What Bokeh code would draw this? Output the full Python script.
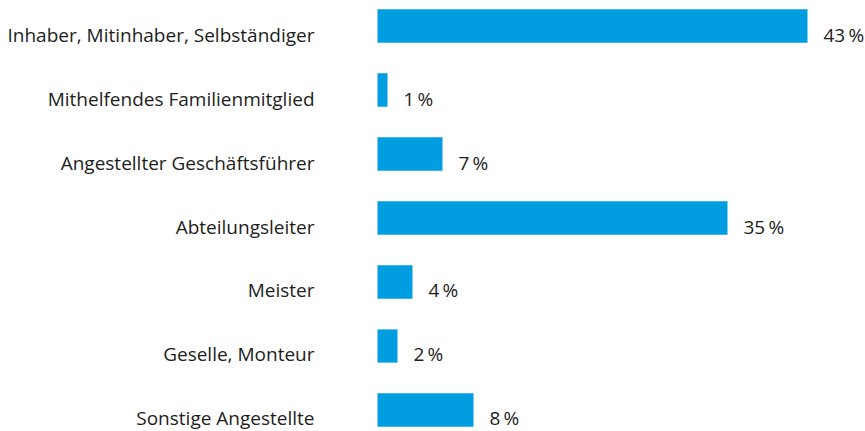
from bokeh.plotting import figure
from bokeh.models import ColumnDataSource, FactorRange, Range1d
from bokeh.core.properties import value
from bokeh.embed import file_html
from bokeh.resources import INLINE

categories = [
    "Inhaber, Mitinhaber, Selbständiger",
    "Mithelfendes Familienmitglied",
    "Angestellter Geschäftsführer",
    "Abteilungsleiter",
    "Meister",
    "Geselle, Monteur",
    "Sonstige Angestellte",
]
# bar lengths as drawn in the picture (percent)
bar_values = [43, 1, 6.5, 35, 3.5, 2, 9.6]
value_labels = ["43\u2009%", "1\u2009%", "7\u2009%", "35\u2009%", "4\u2009%", "2\u2009%", "8\u2009%"]

BLUE = "#009EE0"
TEXT = "#1d1d1b"
FONT = "Open Sans"

src = ColumnDataSource(dict(cat=categories, val=bar_values, lab=value_labels,
                            zero=[0] * len(categories)))

p = figure(width=865, height=431, output_backend="svg", toolbar_location=None,
           y_range=FactorRange(factors=list(reversed(categories)),
                               range_padding=-0.164, range_padding_units="absolute"),
           x_range=Range1d(-37.7, 48.8),
           min_border=0, min_border_top=4, outline_line_color=None)
p.axis.visible = False
p.grid.visible = False
p.background_fill_color = "white"
p.border_fill_color = "white"

p.hbar(y="cat", left=0, right="val", height=0.52, source=src,
       fill_color=BLUE, line_color=None)

p.text(x="zero", y="cat", text="cat", source=src, x_offset=-63, y_offset=8.5,
       text_align="right", text_baseline="alphabetic",
       text_font=value(FONT), text_font_size="19px", text_color=TEXT)

p.text(x="val", y="cat", text="lab", source=src, x_offset=16, y_offset=8.5,
       text_align="left", text_baseline="alphabetic",
       text_font=value(FONT), text_font_size="19px", text_color=TEXT)

open("out.html", "w").write(file_html(p, INLINE))
